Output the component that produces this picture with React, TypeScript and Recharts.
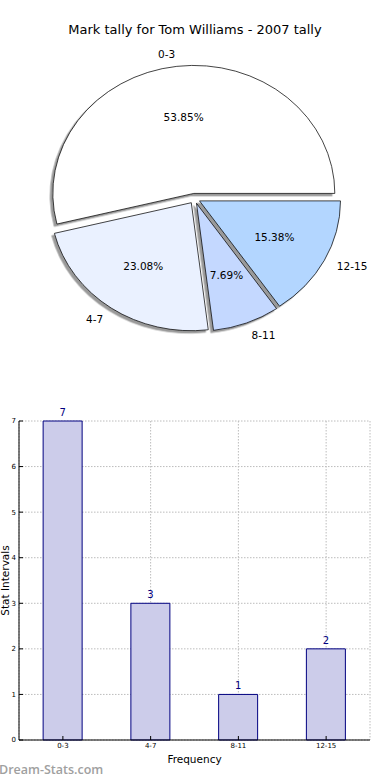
import React from 'react';
import { PieChart, Pie, Cell, BarChart, Bar, XAxis, YAxis, CartesianGrid, LabelList } from 'recharts';

// ---- data ----
const categories = ['0-3', '4-7', '8-11', '12-15'];
const counts = [7, 3, 1, 2];
const sliceColors = ['#ffffff', '#eaf1ff', '#c4d8ff', '#b3d6ff'];
const yTicks = [0, 1, 2, 3, 4, 5, 6, 7];
const chartTitle = 'Mark tally for Tom Williams - 2007 tally';
const xAxisTitle = 'Frequency';
const yAxisTitle = 'Stat Intervals';
const watermark = 'Dream-Stats.com';

const data = categories.map((name, i) => ({ name, value: counts[i] }));

// ---- styling / layout ----
const FONT = '"DejaVu Sans", sans-serif';
const CX = 194.5;
const CY = 198.5;
const R = 128;
const SX = 141 / 128; // pie is drawn as an ellipse (non-equal aspect)
const EXPLODE = 0.04;
const RAD = Math.PI / 180;

const total = counts.reduce((a, b) => a + b, 0);
const midAngles = (() => {
  let acc = 0;
  return counts.map((c) => {
    const s = acc;
    acc += c;
    return ((s + c / 2) / total) * 360;
  });
})();

const sliceTransform = (mid: number) => {
  const dx = R * EXPLODE * Math.cos(mid * RAD) * SX;
  const dy = -R * EXPLODE * Math.sin(mid * RAD);
  return `translate(${CX + dx} ${CY + dy}) scale(${SX} 1) translate(${-CX} ${-CY})`;
};

const renderPieLabel = (p: any) => {
  const m = p.midAngle * RAD;
  const c = Math.cos(m);
  const s = Math.sin(m);
  const r = p.outerRadius;
  const ecx = p.cx + r * EXPLODE * c * SX;
  const ecy = p.cy - r * EXPLODE * s;
  const lx = ecx + 1.1 * r * c * SX;
  const ly = ecy - 1.1 * r * s;
  const px = ecx + 0.6 * r * c * SX;
  const py = ecy - 0.6 * r * s;
  return (
    <g key={`lbl-${p.index}`}>
      <text x={lx} y={ly} textAnchor={c < 0 ? 'end' : 'start'} dominantBaseline="central" fontSize={10.5} fontFamily={FONT} fill="#000">
        {p.name}
      </text>
      <text x={px} y={py} textAnchor="middle" dominantBaseline="central" fontSize={10.5} fontFamily={FONT} fill="#000">
        {(p.percent * 100).toFixed(2)}%
      </text>
    </g>
  );
};

export default function App() {
  return (
    <div style={{ position: 'absolute', left: 0, top: 0, width: 390, height: 780, background: '#fff', overflow: 'hidden', fontFamily: FONT }}>
      <svg width={0} height={0} style={{ position: 'absolute' }}>
        <defs>
          <filter id="pieShadow" x="-20%" y="-20%" width="140%" height="140%">
            <feDropShadow dx={-2.4} dy={2.4} stdDeviation={0.4} floodColor="#000" floodOpacity={0.4} />
          </filter>
        </defs>
      </svg>
      <div style={{ position: 'absolute', left: 0, top: 22.5, width: 390, textAlign: 'center', fontSize: 13, lineHeight: '13px', color: '#000', whiteSpace: 'nowrap' }}>
        {chartTitle}
      </div>
      <div style={{ position: 'absolute', left: 0, top: 0 }}>
        <PieChart width={390} height={380} margin={{ top: 0, right: 0, bottom: 0, left: 0 }}>
          <Pie
            data={data}
            dataKey="value"
            nameKey="name"
            cx={CX}
            cy={CY}
            outerRadius={R}
            startAngle={0}
            endAngle={360}
            stroke="#000"
            strokeWidth={0.7}
            label={renderPieLabel}
            labelLine={false}
            isAnimationActive={false}
          >
            {data.map((d, i) => (
              <Cell key={d.name} fill={sliceColors[i]} transform={sliceTransform(midAngles[i])} filter="url(#pieShadow)" />
            ))}
          </Pie>
        </PieChart>
      </div>
      <div style={{ position: 'absolute', left: 0, top: 400 }}>
        <BarChart width={390} height={380} data={data} margin={{ top: 21, right: 20, bottom: 0, left: 0 }} barCategoryGap="27.5%">
          <XAxis
            dataKey="name"
            height={40}
            tickSize={-4}
            tickMargin={7}
            tick={{ fontSize: 7, fill: '#000', fontFamily: FONT }}
            axisLine={{ stroke: '#000' }}
            tickLine={{ stroke: '#000' }}
            label={{ value: xAxisTitle, position: 'insideBottom', offset: 17, fontSize: 10.5, fill: '#000', fontFamily: FONT }}
          />
          <XAxis xAxisId="top" orientation="top" dataKey="name" height={0} tickSize={-4} tick={false} axisLine={{ stroke: '#000' }} tickLine={{ stroke: '#000' }} />
          <YAxis
            width={19}
            domain={[0, 7]}
            ticks={yTicks}
            tickSize={-4}
            tickMargin={7}
            tick={{ fontSize: 7, fill: '#000', fontFamily: FONT }}
            axisLine={{ stroke: '#000' }}
            tickLine={{ stroke: '#000' }}
            label={{ value: yAxisTitle, angle: -90, position: 'insideLeft', offset: 5, fontSize: 10.5, fill: '#000', fontFamily: FONT, style: { textAnchor: 'middle' } }}
          />
          <YAxis yAxisId="right" orientation="right" width={0} domain={[0, 7]} ticks={yTicks} tickSize={-4} tick={false} axisLine={{ stroke: '#000' }} tickLine={{ stroke: '#000' }} />
          <Bar dataKey="value" fill="#ccccea" stroke="#000080" strokeWidth={1} isAnimationActive={false}>
            <LabelList dataKey="value" position="top" offset={5} fill="#000080" fontSize={10} fontFamily={FONT} />
          </Bar>
          <CartesianGrid stroke="#bcbcbc" strokeDasharray="1.5 1.5" />
        </BarChart>
      </div>
      <div style={{ position: 'absolute', left: -1, top: 762, fontFamily: '"Open Sans", sans-serif', fontSize: 12.5, fontWeight: 600, lineHeight: '16px', color: '#a0a0a0', whiteSpace: 'nowrap' }}>
        {watermark}
      </div>
    </div>
  );
}
